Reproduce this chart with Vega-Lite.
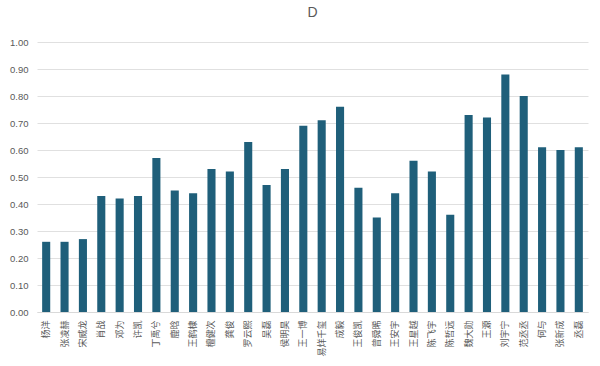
{
  "$schema": "https://vega.github.io/schema/vega-lite/v6.json",
  "width": 551,
  "height": 270,
  "autosize": {"type": "none"},
  "padding": {"left": 37, "top": 42, "right": 12, "bottom": 54},
  "background": "white",
  "title": {"text": "D", "fontSize": 14, "font": "Liberation Sans", "fontWeight": "normal", "color": "#595959", "offset": 17, "anchor": "middle"},
  "config": {"view": {"stroke": null}, "font": "Noto Sans CJK SC"},
  "data": {"values": [
    {"name": "杨洋", "v": 0.26},
    {"name": "张凌赫", "v": 0.26},
    {"name": "宋威龙", "v": 0.27},
    {"name": "肖战", "v": 0.43},
    {"name": "邓为", "v": 0.42},
    {"name": "许凯", "v": 0.43},
    {"name": "丁禹兮", "v": 0.57},
    {"name": "鹿晗", "v": 0.45},
    {"name": "王鹤棣", "v": 0.44},
    {"name": "檀健次", "v": 0.53},
    {"name": "龚俊", "v": 0.52},
    {"name": "罗云熙", "v": 0.63},
    {"name": "吴磊", "v": 0.47},
    {"name": "侯明昊", "v": 0.53},
    {"name": "王一博", "v": 0.69},
    {"name": "易烊千玺", "v": 0.71},
    {"name": "成毅", "v": 0.76},
    {"name": "王俊凯", "v": 0.46},
    {"name": "曾舜晞", "v": 0.35},
    {"name": "王安宇", "v": 0.44},
    {"name": "王星越", "v": 0.56},
    {"name": "陈飞宇", "v": 0.52},
    {"name": "陈哲远", "v": 0.36},
    {"name": "魏大勋", "v": 0.73},
    {"name": "王源", "v": 0.72},
    {"name": "刘宇宁", "v": 0.88},
    {"name": "范丞丞", "v": 0.80},
    {"name": "何与", "v": 0.61},
    {"name": "张新成", "v": 0.60},
    {"name": "丞磊", "v": 0.61}
  ]},
  "mark": {"type": "bar", "color": "#1f5f7a"},
  "encoding": {
    "x": {
      "field": "name", "type": "nominal", "sort": null,
      "scale": {"paddingInner": 0.56, "paddingOuter": 0.28},
      "axis": {
        "title": null, "labelAngle": -90, "labelAlign": "right", "labelBaseline": "middle",
        "ticks": false, "domainColor": "#d9d9d9", "labelColor": "#595959", "labelFontSize": 9,
        "labelPadding": 8, "labelFont": "Noto Sans CJK SC", "labelOverlap": false
      }
    },
    "y": {
      "field": "v", "type": "quantitative",
      "scale": {"domain": [0, 1]},
      "axis": {
        "title": null, "format": ".2f", "values": [0,0.1,0.2,0.3,0.4,0.5,0.6,0.7,0.8,0.9,1.0],
        "domain": false, "ticks": false, "gridColor": "#e0e0e0", "labelOverlap": false,
        "labelColor": "#595959", "labelFontSize": 9.5, "labelPadding": 9, "labelFont": "Liberation Sans"
      }
    }
  }
}
